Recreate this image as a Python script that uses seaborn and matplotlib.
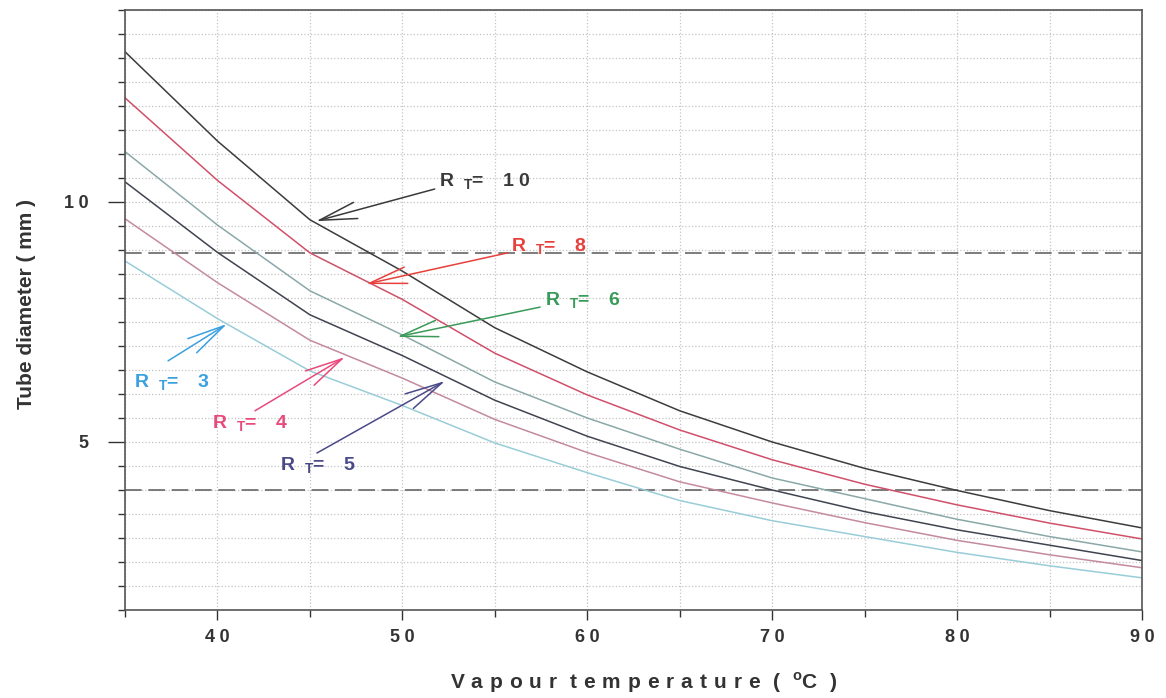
import seaborn as sns
import matplotlib.pyplot as plt
import matplotlib.ticker as mticker
import pandas as pd

# values (every 5 degC)
temps = [35, 40, 45, 50, 55, 60, 65, 70, 75, 80, 85, 90]
rt10 = [13.13, 11.27, 9.63, 8.56, 7.38, 6.46, 5.65, 5.00, 4.45, 3.99, 3.57, 3.21]
rt8 = [12.17, 10.45, 8.94, 7.97, 6.85, 5.98, 5.25, 4.63, 4.12, 3.69, 3.31, 2.98]
rt6 = [11.05, 9.52, 8.15, 7.23, 6.25, 5.50, 4.85, 4.25, 3.82, 3.39, 3.03, 2.71]
rt5 = [10.42, 8.95, 7.65, 6.80, 5.87, 5.12, 4.49, 4.00, 3.55, 3.17, 2.85, 2.53]
rt4 = [9.65, 8.32, 7.12, 6.33, 5.47, 4.78, 4.17, 3.73, 3.32, 2.95, 2.65, 2.38]
rt3 = [8.77, 7.57, 6.48, 5.76, 4.98, 4.36, 3.78, 3.36, 3.03, 2.70, 2.42, 2.17]
limits = [8.94, 4.0]
xticks = [40, 50, 60, 70, 80, 90]
yticks = [5, 10]

series = {'10': rt10, '8': rt8, '6': rt6, '5': rt5, '4': rt4, '3': rt3}
line_cols = {'10': '#3c3c3c', '8': '#d0506a', '6': '#8aa8a8',
             '5': '#404450', '4': '#c48a9e', '3': '#98cdd8'}

df = pd.concat([pd.DataFrame({'T': temps, 'd': v, 'RT': k}) for k, v in series.items()])

sns.set_theme(style="white")
plt.rcParams['font.family'] = ['Liberation Sans', 'DejaVu Sans']
plt.rcParams['mathtext.fontset'] = 'custom'
plt.rcParams['mathtext.rm'] = 'Liberation Sans'
plt.rcParams['mathtext.bf'] = 'Liberation Sans:bold'

SP = '\u2005'   # small gap used for the wide letter spacing of the original


def spaced(s, sp=SP):
    return sp.join(s)


fig = plt.figure(figsize=(11.66, 6.98), dpi=100)
ax = fig.add_axes([0.1072, 0.1261, 0.8722, 0.8596])

sns.lineplot(data=df, x='T', y='d', hue='RT', palette=line_cols, legend=False,
             linewidth=1.1, ax=ax)

for y in limits:
    ax.axhline(y, color='#666666', lw=1.2, ls=(0, (10, 4)), zorder=1)

ax.set_xlim(35, 90)
ax.set_ylim(1.5, 14)
ax.set_xticks(xticks, labels=[spaced(str(t)) for t in xticks])
ax.set_yticks(yticks, labels=[spaced(str(t)) for t in yticks])
ax.xaxis.set_minor_locator(mticker.MultipleLocator(5))
ax.yaxis.set_minor_locator(mticker.MultipleLocator(0.5))
ax.grid(which='both', color='#c4c4c4', ls=':', lw=0.9)
ax.set_axisbelow(True)

ax.tick_params(which='major', direction='out', width=1, color='#333333',
               labelsize=13, labelcolor='#333333')
ax.tick_params(which='minor', direction='out', length=5, width=1, color='#333333')
ax.tick_params(axis='x', which='major', length=7, pad=7)
ax.tick_params(axis='y', which='major', length=12, pad=14)
ax.tick_params(axis='both', which='both', bottom=True, left=True)
for lab in ax.get_xticklabels() + ax.get_yticklabels():
    lab.set_fontweight('bold')

for s in ax.spines.values():
    s.set_color('#555555')
    s.set_linewidth(1.2)

w = '\u2004'
xlab = (spaced('Vapour', w) + w + ' ' + spaced('temperature', w) + w + ' (' + w + ' '
        + '$^{\\mathbf{o}}$' + 'C' + w + ' )')
ax.set_xlabel(xlab, fontsize=15, fontweight='bold', color='#333333')
ax.xaxis.set_label_coords(0.51, -0.1)
ax.set_ylabel('Tube diameter ( mm )', fontsize=15, fontweight='bold', color='#333333')
ax.yaxis.set_label_coords(-0.088, 0.51)

# labels with arrows: (text x, y, arrow start x, y, tip x, y)
labels = {
    '10': (52.0, 10.42, 51.75, 10.27, 45.33, 9.60, '#3a3a3a'),
    '8': (55.9, 9.06, 55.7, 8.94, 48.03, 8.29, '#e8403c'),
    '6': (57.7, 7.94, 57.45, 7.81, 49.71, 7.19, '#3a9a58'),
    '3': (35.5, 6.23, 37.33, 6.69, 40.52, 7.46, '#3aa0e0'),
    '4': (39.7, 5.38, 42.03, 5.65, 46.90, 6.77, '#e84a7c'),
    '5': (43.4, 4.50, 45.38, 4.77, 52.31, 6.27, '#4a4a88'),
}
for rt, (tx, ty, sx, sy, ex, ey, c) in labels.items():
    txt = 'R\u2002$_{\\mathbf{T}}$=\u2002\u2002' + spaced(rt)
    ax.text(tx, ty, txt, color=c, fontsize=14, fontweight='bold',
            va='center', ha='left')
    ax.annotate('', xy=(ex, ey), xytext=(sx, sy),
                arrowprops=dict(arrowstyle='->,head_length=2.7,head_width=0.6',
                                mutation_scale=10, color=c, lw=1.1,
                                shrinkA=0, shrinkB=0))

fig.savefig('out.png', dpi=100)
